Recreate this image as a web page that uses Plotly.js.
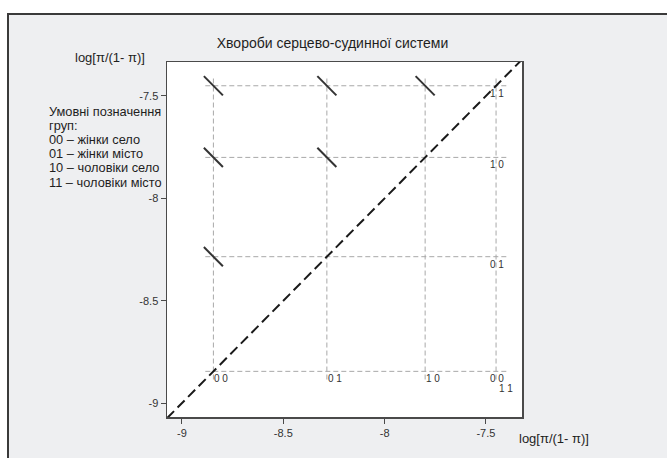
<!DOCTYPE html>
<html>
<head>
<meta charset="utf-8">
<script src="https://cdn.plot.ly/plotly-3.0.1.min.js"></script>
<style>
  html, body { margin: 0; padding: 0; background: #ffffff; }
  #frame { position: absolute; left: 7px; top: 13px; width: 700px; height: 500px;
           background: #eeeff1; border-left: 2px solid #3a3a3a; border-top: 2px solid #3a3a3a; box-sizing: border-box; }
  #chart { position: absolute; left: 0; top: 0; width: 667px; height: 458px; }
</style>
</head>
<body>
<div id="frame"></div>
<div id="chart"></div>
<script>
// ---- data ----
const groups = ['00', '01', '10', '11'];
const groupValues = [-8.845, -8.285, -7.80, -7.45];   // logit per group (same on both axes)
const xTickVals = [-9, -8.5, -8, -7.5];
const yTickVals = [-9, -8.5, -8, -7.5];
const xTickText = ['-9', '-8.5', '-8', '-7.5'];
const yTickText = ['-9', '-8.5', '-8', '-7.5'];
const chartTitle = 'Хвороби серцево-судинної системи';
const axisTitle = 'log[π/(1- π)]';
const legendLines = ['Умовні позначення', 'груп:', '00 – жінки село', '01 – жінки місто', '10 – чоловіки село', '11 – чоловіки місто'];

// ---- layout constants ----
const W = 667, H = 458;
const ml = 167, mr = W - 522, mt = 62, mb = H - 417;
const pw = W - ml - mr, ph = H - mt - mb;
const xRange = [-9.074, -7.322];
const yRange = [-9.068, -7.334];
const ext = 0.04;      // grid line overhang
const d = 0.047;       // half-size of the "\" marks
const font = 'Arial, "Liberation Sans", sans-serif';

const traces = [];
const n = groupValues.length;
const gmin = groupValues[0], gmax = groupValues[n - 1];

// horizontal dashed grid
const hx = [], hy = [];
groupValues.forEach(v => { hx.push(gmin - ext, gmax + 1.4 * ext, null); hy.push(v, v, null); });
traces.push({ x: hx, y: hy, mode: 'lines', line: { color: '#a8a8a8', width: 1, dash: '5px,3px' }, hoverinfo: 'skip' });
// vertical dashed grid
const vx = [], vy = [];
groupValues.forEach(v => { vx.push(v, v, null); vy.push(gmin - ext, gmax + ext, null); });
traces.push({ x: vx, y: vy, mode: 'lines', line: { color: '#a8a8a8', width: 1, dash: '5px,3px' }, hoverinfo: 'skip' });

// diagonal y = x
traces.push({ x: [xRange[0], xRange[1]], y: [xRange[0], xRange[1]], mode: 'lines',
  line: { color: '#1a1a1a', width: 2, dash: '10px,5px' }, hoverinfo: 'skip' });

// "\" marks at intersections above the diagonal
const mx = [], my = [];
for (let i = 0; i < n; i++) for (let j = i + 1; j < n; j++) {
  const x = groupValues[i], y = groupValues[j];
  mx.push(x - d, x + d, null); my.push(y + d, y - d, null);
}
traces.push({ x: mx, y: my, mode: 'lines', line: { color: '#333333', width: 2 }, hoverinfo: 'skip' });

const spaced = g => g.split('').join(' ');
const annotations = [];
// bottom labels (x groups)
groups.forEach((g, i) => {
  const last = i === n - 1;
  annotations.push({ x: groupValues[i], y: gmin, xref: 'x', yref: 'y', text: spaced(g), showarrow: false,
    xanchor: 'left', yanchor: 'top', xshift: last ? 1 : -1, yshift: last ? -10 : 0,
    font: { family: font, size: 10, color: '#333' } });
});
// right labels (y groups)
groups.forEach((g, j) => {
  annotations.push({ x: gmax, y: groupValues[j], xref: 'x', yref: 'y', text: spaced(g), showarrow: false,
    xanchor: 'left', yanchor: 'top', xshift: -8, yshift: 0,
    font: { family: font, size: 10, color: '#333' } });
});
// legend text
const px2x = px => (px - ml) / pw;
const px2y = py => 1 - (py - mt) / ph;
legendLines.forEach((t, k) => {
  annotations.push({ xref: 'paper', yref: 'paper', x: px2x(47), y: px2y(111 + k * 14.2), text: t,
    showarrow: false, xanchor: 'left', yanchor: 'middle',
    font: { family: font, size: 12.8, color: '#1e1e1e' } });
});
// axis titles
annotations.push({ xref: 'paper', yref: 'paper', x: px2x(110), y: px2y(57), text: axisTitle, showarrow: false,
  xanchor: 'center', yanchor: 'middle', font: { family: font, size: 13, color: '#1e1e1e' } });
annotations.push({ xref: 'paper', yref: 'paper', x: px2x(517), y: px2y(438), text: axisTitle, showarrow: false,
  xanchor: 'left', yanchor: 'middle', font: { family: font, size: 13, color: '#1e1e1e' } });

const axisCommon = {
  showgrid: false, zeroline: false, showline: true, mirror: true, linecolor: '#4a4a4a', linewidth: 1.5,
  ticks: 'outside', ticklen: 5, tickwidth: 1, tickcolor: '#4a4a4a', tickmode: 'array',
  tickfont: { family: font, size: 11, color: '#333' }, fixedrange: true
};

const layout = {
  width: W, height: H,
  margin: { l: ml, r: mr, t: mt, b: mb, pad: 0 },
  paper_bgcolor: 'rgba(0,0,0,0)', plot_bgcolor: '#ffffff',
  showlegend: false,
  title: { text: chartTitle, x: 332.5 / W, xanchor: 'center', xref: 'container', y: 1 - 43 / H, yanchor: 'middle',
           yref: 'container', font: { family: font, size: 14, color: '#1e1e1e' } },
  xaxis: Object.assign({}, axisCommon, { range: xRange, tickvals: xTickVals, ticktext: xTickText }),
  yaxis: Object.assign({}, axisCommon, { range: yRange, tickvals: yTickVals, ticktext: yTickText }),
  annotations: annotations
};

Plotly.newPlot('chart', traces, layout, { displayModeBar: false, staticPlot: true });
</script>
</body>
</html>
